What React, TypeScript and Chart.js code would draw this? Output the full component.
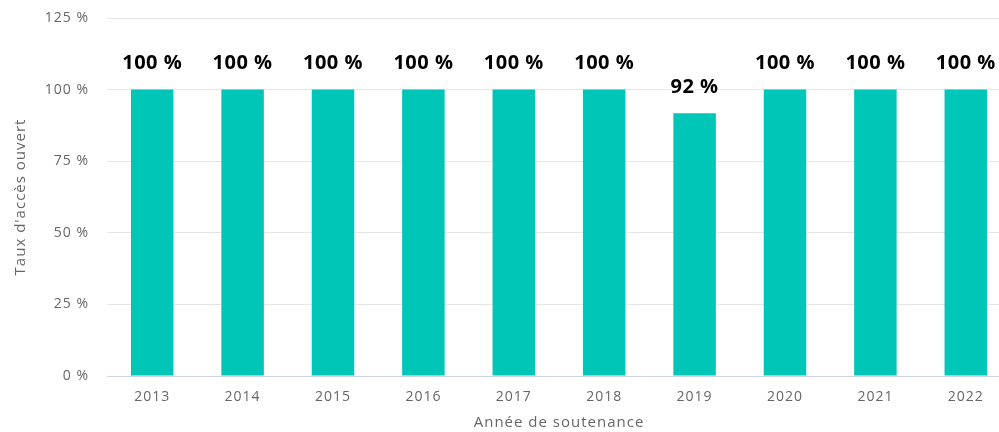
import React, { useEffect, useRef } from "react";
import { Chart, registerables } from "chart.js";

Chart.register(...registerables);

const categories = ["2013", "2014", "2015", "2016", "2017", "2018", "2019", "2020", "2021", "2022"];
const openAccessRate = [100, 100, 100, 100, 100, 100, 91.7, 100, 100, 100];
const yTicks = [0, 25, 50, 75, 100, 125];

const FONT = "'Open Sans', 'DejaVu Sans', sans-serif";

const spacingPlugin = {
  id: "letterSpacing",
  beforeDraw(chart: any) {
    (chart.ctx as any).letterSpacing = "1px";
  },
};

const dataLabelPlugin = {
  id: "dataLabels",
  afterDatasetsDraw(chart: any) {
    const ctx = chart.ctx;
    const meta = chart.getDatasetMeta(0);
    ctx.save();
    (ctx as any).letterSpacing = "0.5px";
    ctx.font = `bold 20px ${FONT}`;
    ctx.textAlign = "center";
    ctx.textBaseline = "middle";
    meta.data.forEach((bar: any, i: number) => {
      const v = chart.data.datasets[0].data[i] as number;
      const text = `${Math.round(v)} %`;
      ctx.lineWidth = 3;
      ctx.strokeStyle = "#ffffff";
      ctx.lineJoin = "round";
      ctx.strokeText(text, bar.x, bar.y - 26);
      ctx.fillStyle = "#000000";
      ctx.fillText(text, bar.x, bar.y - 26);
    });
    ctx.restore();
  },
};

export default function App() {
  const ref = useRef<HTMLCanvasElement | null>(null);
  useEffect(() => {
    if (!ref.current) return;
    const chart = new Chart(ref.current, {
      type: "bar",
      data: {
        labels: categories,
        datasets: [
          {
            data: openAccessRate,
            backgroundColor: "#00c6b8",
            borderWidth: 0,
            barPercentage: 0.47,
            categoryPercentage: 1,
          },
        ],
      },
      options: {
        animation: false,
        responsive: false,
        maintainAspectRatio: false,
        layout: { padding: { top: 18, right: 1, left: 0, bottom: 0 } },
        plugins: { legend: { display: false }, tooltip: { enabled: false } },
        scales: {
          x: {
            grid: { display: false, drawTicks: false },
            border: { color: "#ccd6eb", width: 1 },
            ticks: { color: "#666666", font: { family: FONT, size: 14 }, padding: 13, maxRotation: 0, autoSkip: false },
            title: {
              display: true,
              text: "Année de soutenance",
              color: "#666666",
              font: { family: FONT, size: 15 },
              padding: { top: 0, bottom: 0 },
            },
            afterFit(scale: any) {
              scale.height = 56;
              scale.paddingLeft = 0;
              scale.paddingRight = 0;
            },
          },
          y: {
            min: 0,
            max: 125,
            afterBuildTicks(scale: any) {
              scale.ticks = yTicks.map((v) => ({ value: v }));
            },
            grid: { color: "#e6e6e6", drawTicks: false },
            border: { display: false },
            ticks: {
              color: "#666666",
              font: { family: FONT, size: 14 },
              padding: 18,
              callback: (v: any) => `${v} %`,
            },
            title: {
              display: true,
              text: "Taux d'accès ouvert",
              color: "#666666",
              font: { family: FONT, size: 15 },
              padding: { top: 12, bottom: 0 },
            },
            afterFit(scale: any) {
              scale.width = 107;
              scale.paddingTop = 0;
              scale.paddingBottom = 0;
            },
          },
        },
      },
      plugins: [spacingPlugin, dataLabelPlugin],
    });
    return () => chart.destroy();
  }, []);
  return (
    <div style={{ position: "fixed", left: 0, top: 0, width: 1012, height: 432, overflow: "hidden", background: "#fff" }}>
      <canvas ref={ref} width={1012} height={432} style={{ display: "block", width: 1012, height: 432 }} />
    </div>
  );
}
